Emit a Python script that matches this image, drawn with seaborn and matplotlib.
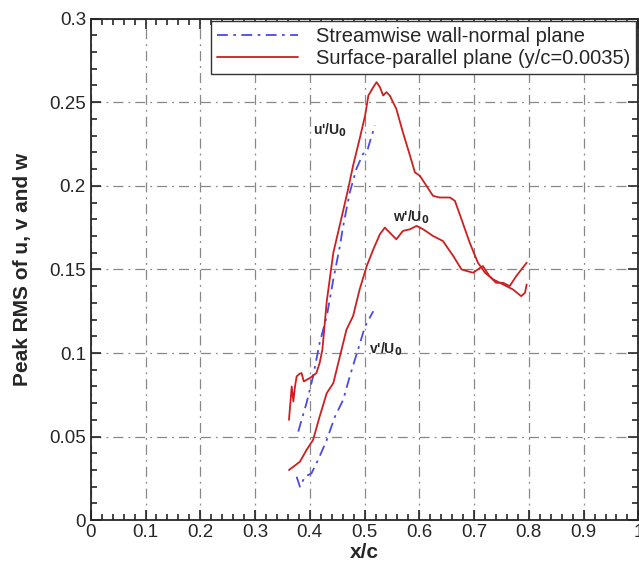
import numpy as np
import pandas as pd
import matplotlib
matplotlib.use("Agg")
import matplotlib.pyplot as plt
import seaborn as sns
from matplotlib.ticker import MultipleLocator, FuncFormatter

# surface-parallel plane, u'/U0
red_u_x = [0.362, 0.367, 0.370, 0.373, 0.376, 0.381, 0.385, 0.389, 0.400, 0.412, 0.418, 0.423,
           0.431, 0.443, 0.458, 0.470, 0.479, 0.491, 0.501, 0.507, 0.516, 0.522, 0.528, 0.534,
           0.540, 0.546, 0.558, 0.570, 0.583, 0.592, 0.601, 0.613, 0.625, 0.637, 0.656, 0.665,
           0.677, 0.692, 0.707, 0.720, 0.735, 0.747, 0.759, 0.771, 0.786, 0.793, 0.796]
red_u_y = [0.060, 0.080, 0.071, 0.080, 0.086, 0.0875, 0.088, 0.083, 0.085, 0.088, 0.094, 0.102,
           0.131, 0.160, 0.181, 0.198, 0.212, 0.228, 0.242, 0.254, 0.259, 0.262, 0.259, 0.254,
           0.256, 0.254, 0.246, 0.232, 0.218, 0.208, 0.206, 0.200, 0.194, 0.193, 0.193, 0.191,
           0.180, 0.166, 0.154, 0.148, 0.144, 0.142, 0.140, 0.138, 0.134, 0.136, 0.141]

# surface-parallel plane, w'/U0
red_w_x = [0.362, 0.382, 0.394, 0.406, 0.418, 0.431, 0.443, 0.455, 0.467, 0.479, 0.491, 0.504,
           0.516, 0.528, 0.537, 0.546, 0.558, 0.570, 0.583, 0.595, 0.607, 0.625, 0.643, 0.662,
           0.677, 0.698, 0.716, 0.728, 0.740, 0.753, 0.765, 0.777, 0.796]
red_w_y = [0.030, 0.035, 0.042, 0.048, 0.062, 0.076, 0.082, 0.098, 0.114, 0.122, 0.138, 0.152,
           0.162, 0.171, 0.175, 0.172, 0.168, 0.173, 0.174, 0.176, 0.174, 0.170, 0.167, 0.158,
           0.150, 0.148, 0.152, 0.146, 0.142, 0.142, 0.140, 0.146, 0.154]

# streamwise wall-normal plane, u'/U0
blue_u_x = [0.379, 0.385, 0.394, 0.406, 0.418, 0.431, 0.443, 0.455, 0.461, 0.473, 0.485, 0.497,
            0.505, 0.513, 0.519]
blue_u_y = [0.053, 0.060, 0.070, 0.086, 0.106, 0.122, 0.144, 0.164, 0.176, 0.196, 0.210, 0.219,
            0.221, 0.230, 0.236]

# streamwise wall-normal plane, v'/U0
blue_v_x = [0.376, 0.382, 0.391, 0.403, 0.415, 0.431, 0.446, 0.461, 0.473, 0.488, 0.501, 0.516]
blue_v_y = [0.026, 0.020, 0.026, 0.028, 0.036, 0.048, 0.062, 0.072, 0.086, 0.102, 0.116, 0.125]

blue = "#4a4ae6"
red = "#cc2020"

sns.set_style("ticks")
plt.rcParams['font.family'] = ['Liberation Sans', 'DejaVu Sans']

fig = plt.figure(figsize=(6.39, 5.63), dpi=100)
ax = fig.add_axes([0.142, 0.076, 0.857, 0.891])

sns.lineplot(x=blue_u_x, y=blue_u_y, sort=False, color=blue, lw=1.3, ax=ax,
             linestyle=(0, (6, 3, 1.5, 3)), label="Streamwise wall-normal plane")
sns.lineplot(x=red_u_x, y=red_u_y, sort=False, color=red, lw=1.3, ax=ax,
             label="Surface-parallel plane (y/c=0.0035)")
sns.lineplot(x=blue_v_x, y=blue_v_y, sort=False, color=blue, lw=1.3, ax=ax,
             linestyle=(0, (6, 3, 1.5, 3)))
sns.lineplot(x=red_w_x, y=red_w_y, sort=False, color=red, lw=1.3, ax=ax)

ax.set_xlim(0, 1)
ax.set_ylim(0, 0.3)
ax.xaxis.set_major_locator(MultipleLocator(0.1))
ax.xaxis.set_minor_locator(MultipleLocator(0.02))
ax.yaxis.set_major_locator(MultipleLocator(0.05))
ax.yaxis.set_minor_locator(MultipleLocator(0.01))
fmt = FuncFormatter(lambda v, p: f"{round(v, 3):g}")
ax.xaxis.set_major_formatter(fmt)
ax.yaxis.set_major_formatter(fmt)
ax.tick_params(which="both", direction="in", top=True, right=True, labelsize=13.5, width=1.2)
ax.tick_params(which="major", length=7)
ax.tick_params(which="minor", length=4)
ax.tick_params(axis="x", pad=3)
ax.grid(True, which="major", color="#888888", linestyle=(0, (8, 4, 1.5, 4)), lw=0.9)
for s in ax.spines.values():
    s.set_linewidth(1.3)

ax.set_xlabel("x/c", fontsize=15, fontweight="bold", labelpad=1)
ax.set_ylabel("Peak RMS of u, v and w", fontsize=15, fontweight="bold", labelpad=12)

ax.text(0.437, 0.233, r"u'/U$_\mathbf{0}$", fontsize=10, fontweight="bold", ha="center", va="center")
ax.text(0.585, 0.181, r"w'/U$_\mathbf{0}$", fontsize=10, fontweight="bold", ha="center", va="center")
ax.text(0.538, 0.102, r"v'/U$_\mathbf{0}$", fontsize=10, fontweight="bold", ha="center", va="center")

leg = ax.legend(loc="upper right", fontsize=14.5, frameon=True, fancybox=False, framealpha=1,
                edgecolor="#333333", handlelength=4.0, handletextpad=0.9, borderpad=0.3,
                labelspacing=0.15, borderaxespad=0.1)
leg.get_frame().set_linewidth(1.0)

fig.savefig("out.png", dpi=100)
